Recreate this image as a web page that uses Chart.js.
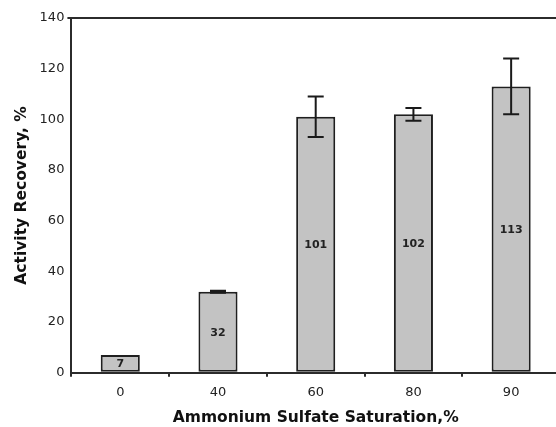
<!DOCTYPE html>
<html>
<head>
<meta charset="utf-8">
<script src="https://cdn.jsdelivr.net/npm/chart.js@4/dist/chart.umd.min.js"></script>
<style>
    html, body { margin: 0; padding: 0; background: #fff; overflow: hidden; }
    #wrap { width: 560px; height: 427px; }
</style>
</head>
<body>
<div id="wrap"><canvas id="chart" width="560" height="427"></canvas></div>
<script>
    const saturation = ["0", "40", "60", "80", "90"];
    const recovery = [7, 32, 101, 102, 113];
    const errors = [0, 0.4, 8, 2.5, 11];

    const ink = "#2b2b2b";
    const face = "'DejaVu Sans', 'Liberation Sans', Arial, sans-serif";

    // error bars, drawn through the y scale
    const errorBars = {
        id: "errorBars",
        afterDatasetsDraw(chart) {
            const ctx = chart.ctx;
            const y = chart.scales.y;
            const meta = chart.getDatasetMeta(0);
            ctx.save();
            ctx.strokeStyle = "#1a1a1a";
            ctx.lineWidth = 2;
            meta.data.forEach((bar, i) => {
                if (!errors[i]) return;
                const top = y.getPixelForValue(recovery[i] + errors[i]);
                const bottom = y.getPixelForValue(recovery[i] - errors[i]);
                ctx.beginPath();
                ctx.moveTo(bar.x, top);
                ctx.lineTo(bar.x, bottom);
                ctx.moveTo(bar.x - 8, top);
                ctx.lineTo(bar.x + 8, top);
                ctx.moveTo(bar.x - 8, bottom);
                ctx.lineTo(bar.x + 8, bottom);
                ctx.stroke();
            });
            ctx.restore();
        }
    };

    // value printed in the middle of each bar
    const barLabels = {
        id: "barLabels",
        afterDatasetsDraw(chart) {
            const ctx = chart.ctx;
            const meta = chart.getDatasetMeta(0);
            ctx.save();
            ctx.fillStyle = "#222";
            ctx.font = "bold 11px " + face;
            ctx.textAlign = "center";
            ctx.textBaseline = "middle";
            meta.data.forEach((bar, i) => {
                ctx.fillText(String(recovery[i]), bar.x, (bar.y + bar.base) / 2 + 1);
            });
            ctx.restore();
        }
    };

    new Chart(document.getElementById("chart"), {
        type: "bar",
        data: {
            labels: saturation,
            datasets: [{
                data: recovery,
                backgroundColor: "#c3c3c3",
                borderColor: "#1f1f1f",
                borderWidth: 2,
                borderSkipped: false,
                barPercentage: 0.8,
                categoryPercentage: 0.5
            }]
        },
        options: {
            responsive: false,
            animation: false,
            layout: { padding: { top: 18, right: 0, left: 13, bottom: 0 } },
            plugins: { legend: { display: false }, tooltip: { enabled: false } },
            scales: {
                x: {
                    grid: {
                        offset: true,
                        drawOnChartArea: false,
                        drawTicks: true,
                        tickLength: 4,
                        color: ink,
                        lineWidth: 2
                    },
                    border: { color: ink, width: 2 },
                    ticks: {
                        color: "#222",
                        padding: 8,
                        font: { family: face, size: 13 }
                    },
                    title: {
                        display: true,
                        text: "Ammonium Sulfate Saturation,%",
                        color: "#111",
                        padding: { top: 0, bottom: 0 },
                        font: { family: face, size: 15.5, weight: "bold" }
                    }
                },
                y: {
                    min: 0,
                    max: 140,
                    ticks: {
                        stepSize: 20,
                        color: "#222",
                        padding: 3,
                        font: { family: face, size: 13 }
                    },
                    grid: {
                        drawTicks: true,
                        tickLength: 4,
                        lineWidth: 2,
                        color: ctx => (ctx.tick && ctx.tick.value === 140) ? ink : "rgba(0,0,0,0)"
                    },
                    border: { color: ink, width: 2 },
                    title: {
                        display: true,
                        text: "Activity Recovery, %",
                        color: "#111",
                        padding: { top: 0, bottom: 5 },
                        font: { family: face, size: 15.5, weight: "bold" }
                    }
                }
            }
        },
        plugins: [errorBars, barLabels]
    });
</script>
</body>
</html>
